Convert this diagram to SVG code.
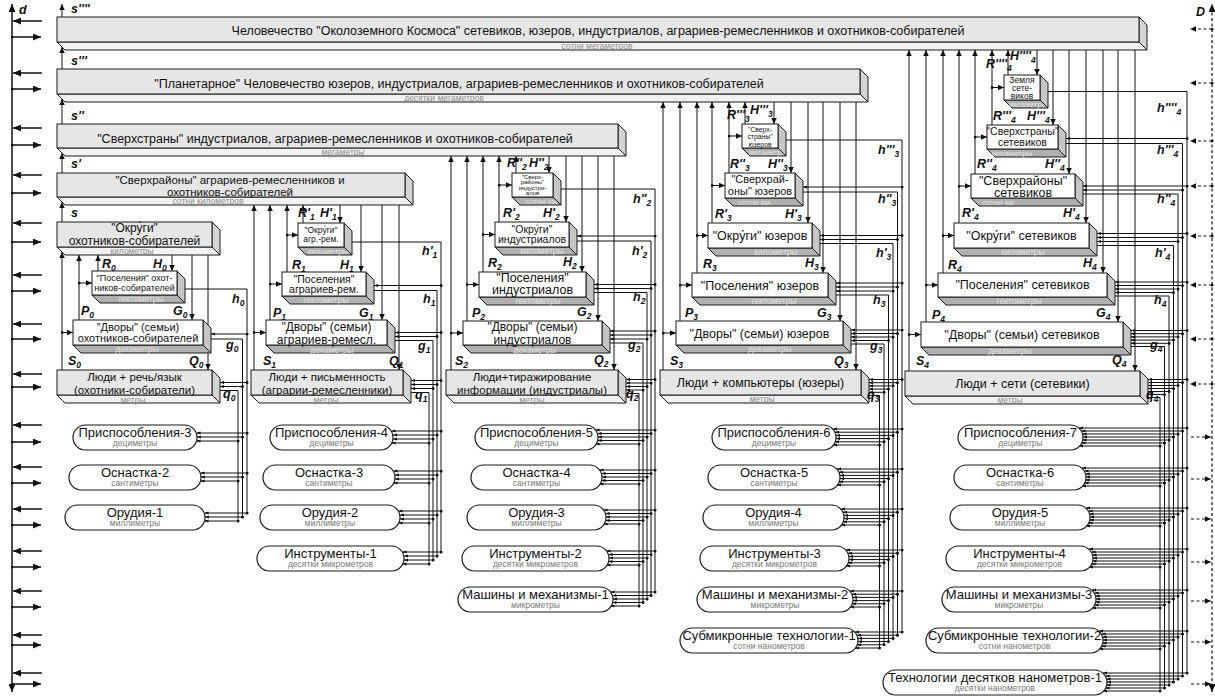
<svg xmlns="http://www.w3.org/2000/svg" width="1215" height="696" viewBox="0 0 1215 696">
<defs>
<style>
text{font-family:"Liberation Sans",Arial,sans-serif;fill:#111}
.t{font-size:12.5px;text-anchor:middle}
.cg{font-size:8.5px;text-anchor:middle;fill:#8c8c8c}
.cw{font-size:8.5px;text-anchor:middle;fill:#e2e2e2}
.lb{font-size:12.5px;font-weight:bold;font-style:italic}
.sb{font-size:8.5px}
.g .f{fill:#e6e6e6}
.g .s{fill:#f2f2f2}
.g .r{fill:#d4d4d4}
.w .f{fill:#fff}
.w .s{fill:#b0b0b0}
.w .r{fill:#c6c6c6}
.f,.s,.r{stroke:#1a1a1a;stroke-width:1}
.p rect{fill:#fff;stroke:#1a1a1a;stroke-width:1.2}
.pt{font-size:13px;text-anchor:middle}
.ps{font-size:8.5px;text-anchor:middle;fill:#777}
#connectors path{fill:none;stroke:#111;stroke-width:1}
#connectors .ar path{marker-end:url(#ah)}
#connectors .lbr path{marker-start:url(#dt);marker-end:url(#ah)}
#connectors .br path{marker-start:url(#dt);marker-end:url(#ahs)}
#axes path{fill:none;stroke:#111;stroke-width:1.5}
#axes .both{marker-start:url(#ahL);marker-end:url(#ahL)}
#axes .la{marker-end:url(#ahL)}
#axes .ra{marker-start:url(#dt);marker-end:url(#ahL)}
#axes .dash{stroke-dasharray:3 2.5;stroke-width:1.2}
#axes .dl{stroke-dasharray:3 2.5;stroke-width:1.2;marker-start:url(#dt);marker-end:url(#ah)}
#axes .dr{stroke-dasharray:3 2.5;stroke-width:1.2;marker-end:url(#ah)}
</style>
<marker id="ah" viewBox="0 0 10 10" refX="10" refY="5" markerWidth="6" markerHeight="5.5" markerUnits="userSpaceOnUse" orient="auto" preserveAspectRatio="none"><path d="M0 0L10 5L0 10z" fill="#111"/></marker>
<marker id="ahs" viewBox="0 0 10 10" refX="10" refY="5" markerWidth="4" markerHeight="3.2" markerUnits="userSpaceOnUse" orient="auto" preserveAspectRatio="none"><path d="M0 0L10 5L0 10z" fill="#111"/></marker>
<marker id="ahL" viewBox="0 0 10 10" refX="10" refY="5" markerWidth="8" markerHeight="7" markerUnits="userSpaceOnUse" orient="auto-start-reverse" preserveAspectRatio="none"><path d="M0 0L10 5L0 10z" fill="#111"/></marker>
<marker id="dt" viewBox="0 0 10 10" refX="5" refY="5" markerWidth="3" markerHeight="3" markerUnits="userSpaceOnUse"><circle cx="5" cy="5" r="5" fill="#111"/></marker>
</defs>
<rect width="1215" height="696" fill="#fff"/>

<g id="axes">
<path class="both" d="M12 692V4"/>
<path class="la" d="M42 21H13"/><path class="ra" d="M12 37H41"/>
<path class="la" d="M42 73H13"/><path class="ra" d="M12 89H41"/>
<path class="la" d="M42 128H13"/><path class="ra" d="M12 145H41"/>
<path class="la" d="M42 175H13"/><path class="ra" d="M12 193H41"/>
<path class="la" d="M42 223H13"/><path class="ra" d="M12 242H41"/>
<path class="la" d="M42 275H13"/><path class="ra" d="M12 291H41"/>
<path class="la" d="M42 324H13"/><path class="ra" d="M12 339H41"/>
<path class="la" d="M42 374H13"/><path class="ra" d="M12 387H41"/>
<path class="la" d="M42 425H13"/><path class="ra" d="M12 442H41"/>
<path class="la" d="M42 467H13"/><path class="ra" d="M12 483H41"/>
<path class="la" d="M42 509H13"/><path class="ra" d="M12 525H41"/>
<path class="la" d="M42 551H13"/><path class="ra" d="M12 567H41"/>
<path class="la" d="M42 591H13"/><path class="ra" d="M12 607H41"/>
<path class="la" d="M42 635H13"/><path class="ra" d="M12 645H41"/>
<path class="la" d="M42 673H13"/><path class="ra" d="M12 684H41"/>
<path class="dash both" d="M1212 692V4"/>
<path class="dl" d="M1212 29H1190"/><path class="dl" d="M1212 83H1190"/><path class="dl" d="M1212 141H1190"/><path class="dl" d="M1212 186H1190"/>
<path class="dl" d="M1212 236H1190"/><path class="dl" d="M1212 285H1190"/><path class="dl" d="M1212 339H1190"/><path class="dl" d="M1212 384H1190"/>
<path class="dr" d="M1191 437H1211"/><path class="dr" d="M1191 479H1211"/><path class="dr" d="M1191 519H1211"/><path class="dr" d="M1191 562H1211"/>
<path class="dr" d="M1191 601H1211"/><path class="dr" d="M1191 642H1211"/><path class="dr" d="M1191 684H1211"/>
<text class="lb" x="19" y="14">d</text>
<text class="lb" x="1196" y="16">D</text>
</g>

<g id="connectors">
<g class="ar">
<path d="M62 17V4"/><path d="M62 69V47"/><path d="M62 124V99"/><path d="M62 173V153"/><path d="M62 222V202"/>
<path d="M98 271V255"/><path d="M79 320V255"/><path d="M62 370V252"/>
<path d="M303 223V205"/><path d="M287 272V205"/><path d="M270 320V205"/><path d="M254 370V205"/>
<path d="M516 173V156"/><path d="M499 222V156"/><path d="M483 272V156"/><path d="M467 321V156"/><path d="M451 370V156"/>
<path d="M745 124V102"/><path d="M729 173V102"/><path d="M712 223V102"/><path d="M697 273V102"/><path d="M680 321V102"/><path d="M663 370V102"/>
<path d="M1008 75V50"/><path d="M992 125V50"/><path d="M975 174V50"/><path d="M959 223V50"/><path d="M943 273V50"/><path d="M926 322V50"/><path d="M909 371V50"/>
<path d="M172 255V271"/><path d="M192 255V320"/><path d="M208 255V370"/>
<path d="M340 205V223"/><path d="M361 205V272"/><path d="M382 205V320"/><path d="M399 205V370"/>
<path d="M549 156V173"/><path d="M566 156V222"/><path d="M582 156V272"/><path d="M598 156V321"/><path d="M614 156V370"/>
<path d="M774 102V124"/><path d="M791 102V173"/><path d="M808 102V223"/><path d="M823 102V273"/><path d="M840 102V321"/><path d="M856 102V370"/>
<path d="M1037 50V75"/><path d="M1053 50V125"/><path d="M1069 50V174"/><path d="M1086 50V223"/><path d="M1103 50V273"/><path d="M1118 50V322"/><path d="M1135 50V371"/>
</g>
<g class="lbr">
<path d="M79 283H92"/><path d="M62 332.5H73"/>
<path d="M287 235H298"/><path d="M270 284H282"/><path d="M254 332.5H266"/>
<path d="M499 185H512"/><path d="M483 234.5H495"/><path d="M467 284.5H479"/><path d="M451 333H463"/>
<path d="M729 136H742"/><path d="M712 185.5H725"/><path d="M697 235.5H708"/><path d="M680 285H692"/><path d="M663 333H676"/>
<path d="M992 87.5H1004"/><path d="M975 137H987"/><path d="M959 186H971"/><path d="M943 235.5H954"/><path d="M926 285H938"/><path d="M909 334.5H921"/>
</g>
<g class="bus">
<path d="M185 289H247V513"/><path d="M211 339H242.5V517"/><path d="M220 390.5H238V521"/>
<path d="M352 242H441V552"/><path d="M374 290.5H437V556"/><path d="M395 340.5H433V560"/><path d="M411 392.5H429V564"/>
<path d="M561 189H655V592"/><path d="M577 241H651V595.5"/><path d="M594 292.5H647V599"/><path d="M610 343H643V602.5"/><path d="M626 393.5H639V606"/>
<path d="M786 140H902V632"/><path d="M803 192H897.5V635.2"/><path d="M820 243.5H893V638.4"/><path d="M836 295H888.5V641.6"/><path d="M851 344H884V644.8"/><path d="M869 395.5H879.5V648"/>
<path d="M1048 91.5H1187V673"/><path d="M1066 143.5H1182.5V676"/><path d="M1083 194H1178V679"/><path d="M1097 245.5H1173.5V682"/><path d="M1115 296H1169V685"/><path d="M1131 346.5H1164.5V688"/><path d="M1148 397.5H1160V691"/>
</g>
<g class="br">
<path d="M247 334H211"/><path d="M247 382.5H220"/><path d="M242.5 386.5H220"/>
<path d="M247 433H196.5"/><path d="M242.5 437H197"/><path d="M238 441H196.5"/>
<path d="M247 473H200.5"/><path d="M242.5 477H201"/><path d="M238 481H200.5"/>
<path d="M247 513H204.5"/><path d="M242.5 517H205"/><path d="M238 521H204.5"/>

<path d="M441 285.5H374"/><path d="M441 332.5H395"/><path d="M437 336.5H395"/><path d="M441 380.5H411"/><path d="M437 384.5H411"/><path d="M433 388.5H411"/>
<path d="M441 431H391.5"/><path d="M437 435H393"/><path d="M433 439H393"/><path d="M429 443H391.5"/>
<path d="M441 471H393.5"/><path d="M437 475H395"/><path d="M433 479H395"/><path d="M429 483H393.5"/>
<path d="M441 511H398.5"/><path d="M437 515H400"/><path d="M433 519H400"/><path d="M429 523H398.5"/>
<path d="M441 552H402.5"/><path d="M437 556H404"/><path d="M433 560H404"/><path d="M429 564H402.5"/>

<path d="M655 236H577"/><path d="M655 284.5H594"/><path d="M651 288.5H594"/><path d="M655 331H610"/><path d="M651 335H610"/><path d="M647 339H610"/>
<path d="M655 379.5H626"/><path d="M651 383H626"/><path d="M647 386.5H626"/><path d="M643 390H626"/>
<path d="M655 430H595.5"/><path d="M651 433.5H597.5"/><path d="M647 437H598"/><path d="M643 440.5H597.5"/><path d="M639 444H595.5"/>
<path d="M655 470H599.5"/><path d="M651 473.5H601.5"/><path d="M647 477H602"/><path d="M643 480.5H601.5"/><path d="M639 484H599.5"/>
<path d="M655 510H603.5"/><path d="M651 513.5H605.5"/><path d="M647 517H606"/><path d="M643 520.5H605.5"/><path d="M639 524H603.5"/>
<path d="M655 551H606.5"/><path d="M651 554.5H608.5"/><path d="M647 558H609"/><path d="M643 561.5H608.5"/><path d="M639 565H606.5"/>
<path d="M655 592H610.5"/><path d="M651 595.5H612.5"/><path d="M647 599H613"/><path d="M643 602.5H612.5"/><path d="M639 606H610.5"/>

<path d="M902 187H803"/><path d="M902 235.5H820"/><path d="M897.5 239.5H820"/>
<path d="M902 283H836"/><path d="M897.5 287H836"/><path d="M893 291H836"/>
<path d="M902 330H851"/><path d="M897.5 333.5H851"/><path d="M893 337H851"/><path d="M888.5 340.5H851"/>
<path d="M902 379.5H869"/><path d="M897.5 382.7H869"/><path d="M893 385.9H869"/><path d="M888.5 389.1H869"/><path d="M884 392.3H869"/>
<path d="M902 429H833"/><path d="M897.5 432.2H835"/><path d="M893 435.4H836"/><path d="M888.5 438.6H836"/><path d="M884 441.8H835"/><path d="M879.5 445H833"/>
<path d="M902 469H837"/><path d="M897.5 472.2H839"/><path d="M893 475.4H840"/><path d="M888.5 478.6H840"/><path d="M884 481.8H839"/><path d="M879.5 485H837"/>
<path d="M902 509H841"/><path d="M897.5 512.2H843"/><path d="M893 515.4H844"/><path d="M888.5 518.6H844"/><path d="M884 521.8H843"/><path d="M879.5 525H841"/>
<path d="M902 550H846"/><path d="M897.5 553.2H848"/><path d="M893 556.4H849"/><path d="M888.5 559.6H849"/><path d="M884 562.8H848"/><path d="M879.5 566H846"/>
<path d="M902 591H850"/><path d="M897.5 594.2H852"/><path d="M893 597.4H853"/><path d="M888.5 600.6H853"/><path d="M884 603.8H852"/><path d="M879.5 607H850"/>
<path d="M902 632H855"/><path d="M897.5 635.2H857"/><path d="M893 638.4H858"/><path d="M888.5 641.6H858"/><path d="M884 644.8H857"/><path d="M879.5 648H855"/>

<path d="M1187 138.5H1066"/>
<path d="M1187 186H1083"/><path d="M1182.5 190H1083"/>
<path d="M1187 233.5H1097"/><path d="M1182.5 237.5H1097"/><path d="M1178 241.5H1097"/>
<path d="M1187 282H1115"/><path d="M1182.5 285.5H1115"/><path d="M1178 289H1115"/><path d="M1173.5 292.5H1115"/>
<path d="M1187 330.5H1131"/><path d="M1182.5 333.7H1131"/><path d="M1178 336.9H1131"/><path d="M1173.5 340.1H1131"/><path d="M1169 343.3H1131"/>
<path d="M1187 379.5H1148"/><path d="M1182.5 382.5H1148"/><path d="M1178 385.5H1148"/><path d="M1173.5 388.5H1148"/><path d="M1169 391.5H1148"/><path d="M1164.5 394.5H1148"/>
<path d="M1187 428H1079"/><path d="M1182.5 431H1081.5"/><path d="M1178 434H1082.5"/><path d="M1173.5 437H1083"/><path d="M1169 440H1082.5"/><path d="M1164.5 443H1081.5"/><path d="M1160 446H1079"/>
<path d="M1187 468H1082"/><path d="M1182.5 471H1084.5"/><path d="M1178 474H1085.5"/><path d="M1173.5 477H1086"/><path d="M1169 480H1085.5"/><path d="M1164.5 483H1084.5"/><path d="M1160 486H1082"/>
<path d="M1187 508H1086"/><path d="M1182.5 511H1088.5"/><path d="M1178 514H1089.5"/><path d="M1173.5 517H1090"/><path d="M1169 520H1089.5"/><path d="M1164.5 523H1088.5"/><path d="M1160 526H1086"/>
<path d="M1187 549H1089"/><path d="M1182.5 552H1091.5"/><path d="M1178 555H1092.5"/><path d="M1173.5 558H1093"/><path d="M1169 561H1092.5"/><path d="M1164.5 564H1091.5"/><path d="M1160 567H1089"/>
<path d="M1187 590H1092"/><path d="M1182.5 593H1094.5"/><path d="M1178 596H1095.5"/><path d="M1173.5 599H1096"/><path d="M1169 602H1095.5"/><path d="M1164.5 605H1094.5"/><path d="M1160 608H1092"/>
<path d="M1187 631H1099"/><path d="M1182.5 634H1101.5"/><path d="M1178 637H1102.5"/><path d="M1173.5 640H1103"/><path d="M1169 643H1102.5"/><path d="M1164.5 646H1101.5"/><path d="M1160 649H1099"/>
<path d="M1187 673H1103"/><path d="M1182.5 676H1105.5"/><path d="M1178 679H1106.5"/><path d="M1173.5 682H1107"/><path d="M1169 685H1106.5"/><path d="M1164.5 688H1105.5"/><path d="M1160 691H1103"/>
</g>
</g>

<g id="b1" class="g"><polygon class="s" points="57,42 1139,42 1147,50 65,50"/><text class="cg" x="597" y="48.5">сотни мегаметров</text><polygon class="r" points="1139,17 1147,25 1147,50 1139,42"/><rect class="f" x="57" y="17" width="1082" height="25"/><text class="t" x="598" y="35">Человечество "Околоземного Космоса" сетевиков, юзеров, индустриалов, аграриев-ремесленников и охотников-собирателей</text></g>
<g id="b2" class="g"><polygon class="s" points="57,94 860,94 868,102 65,102"/><text class="cg" x="444" y="100.5">десятки мегаметров</text><polygon class="r" points="860,69 868,77 868,102 860,94"/><rect class="f" x="57" y="69" width="803" height="25"/><text class="t" x="459" y="88">"Планетарное" Человечество юзеров, индустриалов, аграриев-ремесленников и охотников-собирателей</text></g>
<g id="b3" class="g"><polygon class="s" points="57,148 618,148 626,156 65,156"/><text class="cg" x="343" y="154.5">мегаметры</text><polygon class="r" points="618,124 626,132 626,156 618,148"/><rect class="f" x="57" y="124" width="561" height="24"/><text class="t" x="335" y="142.5">"Сверхстраны" индустриалов, аграриев-ремесленников и охотников-собирателей</text></g>
<g id="b4" class="g"><polygon class="s" points="57,197 405,197 413,205 65,205"/><text class="cg" x="208" y="204">сотни километров</text><polygon class="r" points="405,173 413,181 413,205 405,197"/><rect class="f" x="57" y="173" width="348" height="24"/><text class="t" style="font-size:11.5px"><tspan x="230" y="184">"Сверхрайоны" аграриев-ремесленников и</tspan><tspan x="230" y="195.5">охотников-собирателей</tspan></text></g>
<g id="b5" class="g"><polygon class="s" points="57,247 212,247 220,255 65,255"/><text class="cg" x="132" y="254">километры</text><polygon class="r" points="212,222 220,230 220,255 212,247"/><rect class="f" x="57" y="222" width="155" height="25"/><text class="t" style="font-size:12px"><tspan x="134.5" y="231.5">"Окру́ги"</tspan><tspan x="134.5" y="244.5">охотников-собирателей</tspan></text></g>

<g id="c0-pos" class="w"><polygon class="s" points="92,295 177,295 185,303 100,303"/><text class="cw" x="141" y="302">гектометры</text><polygon class="r" points="177,271 185,279 185,303 177,295"/><rect class="f" x="92" y="271" width="85" height="24"/><text class="t" style="font-size:9px"><tspan x="134.5" y="280.5">"Поселения" охот-</tspan><tspan x="134.5" y="291">ников-собирателей</tspan></text></g>
<g id="c0-dvor" class="w"><polygon class="s" points="73,345 203,345 211,353 81,353"/><text class="cw" x="137" y="352">декаметры</text><polygon class="r" points="203,320 211,328 211,353 203,345"/><rect class="f" x="73" y="320" width="130" height="25"/><text class="t" style="font-size:11px"><tspan x="138" y="331">"Дворы" (семьи)</tspan><tspan x="138" y="342">охотников-собирателей</tspan></text></g>
<g id="c0-lyudi" class="g"><polygon class="s" points="57,395 212,395 220,403 65,403"/><text class="cg" x="133" y="402.5">метры</text><polygon class="r" points="212,370 220,378 220,403 212,395"/><rect class="f" x="57" y="370" width="155" height="25"/><text class="t" style="font-size:11.5px"><tspan x="134.5" y="381">Люди + речь/язык</tspan><tspan x="134.5" y="393.5">(охотники-собиратели)</tspan></text></g>

<g id="c1-okr" class="w"><polygon class="s" points="298,247 344,247 352,255 306,255"/><text class="cw" style="font-size:8px" x="328" y="254">километры</text><polygon class="r" points="344,223 352,231 352,255 344,247"/><rect class="f" x="298" y="223" width="46" height="24"/><text class="t" style="font-size:8.5px"><tspan x="321" y="232.5">"Окру́ги"</tspan><tspan x="321" y="242">агр.-рем.</tspan></text></g>
<g id="c1-pos" class="w"><polygon class="s" points="282,296 366,296 374,304 290,304"/><text class="cw" x="326" y="303">гектометры</text><polygon class="r" points="366,272 374,280 374,304 366,296"/><rect class="f" x="282" y="272" width="84" height="24"/><text class="t" style="font-size:10.5px"><tspan x="324" y="282.5">"Поселения"</tspan><tspan x="324" y="293">аграриев-рем.</tspan></text></g>
<g id="c1-dvor" class="w"><polygon class="s" points="266,345 387,345 395,353 274,353"/><text class="cw" x="332" y="352.5">декаметры</text><polygon class="r" points="387,320 395,328 395,353 387,345"/><rect class="f" x="266" y="320" width="121" height="25"/><text class="t" style="font-size:12px"><tspan x="326.5" y="331">"Дворы" (семьи)</tspan><tspan x="326.5" y="343.5">аграриев-ремесл.</tspan></text></g>
<g id="c1-lyudi" class="g"><polygon class="s" points="251,395 403,395 411,403 259,403"/><text class="cg" x="326" y="402.5">метры</text><polygon class="r" points="403,370 411,378 411,403 403,395"/><rect class="f" x="251" y="370" width="152" height="25"/><text class="t" style="font-size:11.5px"><tspan x="327" y="381">Люди + письменность</tspan><tspan x="327" y="393.5">(аграрии-ремесленники)</tspan></text></g>

<g id="c2-sr" class="w"><polygon class="s" points="512,197 553,197 561,205 520,205"/><text class="cw" style="font-size:8px" x="541" y="204">сотни км</text><polygon class="r" points="553,173 561,181 561,205 553,197"/><rect class="f" x="512" y="173" width="41" height="24"/><text class="t" style="font-size:6px"><tspan x="532.5" y="178.5">"Сверх-</tspan><tspan x="532.5" y="184">районы"</tspan><tspan x="532.5" y="189.5">индустри-</tspan><tspan x="532.5" y="195">алов</tspan></text></g>
<g id="c2-okr" class="w"><polygon class="s" points="495,247 569,247 577,255 503,255"/><text class="cw" x="542" y="254">километры</text><polygon class="r" points="569,222 577,230 577,255 569,247"/><rect class="f" x="495" y="222" width="74" height="25"/><text class="t" style="font-size:10.5px"><tspan x="532" y="232.5">"Окру́ги"</tspan><tspan x="532" y="243">индустриалов</tspan></text></g>
<g id="c2-pos" class="w"><polygon class="s" points="479,297 586,297 594,305 487,305"/><text class="cw" x="538" y="304">гектометры</text><polygon class="r" points="586,272 594,280 594,305 586,297"/><rect class="f" x="479" y="272" width="107" height="25"/><text class="t" style="font-size:12.5px"><tspan x="532.5" y="282">"Поселения"</tspan><tspan x="532.5" y="294">индустриалов</tspan></text></g>
<g id="c2-dvor" class="w"><polygon class="s" points="463,345 602,345 610,353 471,353"/><text class="cw" x="535" y="352.5">декаметры</text><polygon class="r" points="602,321 610,329 610,353 602,345"/><rect class="f" x="463" y="321" width="139" height="24"/><text class="t" style="font-size:12px"><tspan x="532.5" y="331">"Дворы" (семьи)</tspan><tspan x="532.5" y="343.5">индустриалов</tspan></text></g>
<g id="c2-lyudi" class="g"><polygon class="s" points="446,395 618,395 626,403 454,403"/><text class="cg" x="532" y="402.5">метры</text><polygon class="r" points="618,370 626,378 626,403 618,395"/><rect class="f" x="446" y="370" width="172" height="25"/><text class="t" style="font-size:11.5px"><tspan x="532" y="381">Люди+тиражирование</tspan><tspan x="532" y="393.5">информации (индустриалы)</tspan></text></g>

<g id="c3-ss" class="w"><polygon class="s" points="742,148 778,148 786,156 750,156"/><text class="cw" style="font-size:7.5px" x="768" y="155">мегаметры</text><polygon class="r" points="778,124 786,132 786,156 778,148"/><rect class="f" x="742" y="124" width="36" height="24"/><text class="t" style="font-size:6.8px"><tspan x="760" y="132">"Сверх-</tspan><tspan x="760" y="139.3">страны"</tspan><tspan x="760" y="146.5">юзеров</tspan></text></g>
<g id="c3-sr" class="w"><polygon class="s" points="725,198 795,198 803,206 733,206"/><text class="cw" style="font-size:8px" x="754" y="205">сотни км</text><polygon class="r" points="795,173 803,181 803,206 795,198"/><rect class="f" x="725" y="173" width="70" height="25"/><text class="t" style="font-size:11px"><tspan x="760" y="183">"Сверхрай-</tspan><tspan x="760" y="194.5">оны" юзеров</tspan></text></g>
<g id="c3-okr" class="w"><polygon class="s" points="708,248 812,248 820,256 716,256"/><text class="cw" x="776" y="255">километры</text><polygon class="r" points="812,223 820,231 820,256 812,248"/><rect class="f" x="708" y="223" width="104" height="25"/><text class="t" x="760" y="240">"Окру́ги" юзеров</text></g>
<g id="c3-pos" class="w"><polygon class="s" points="692,297 828,297 836,305 700,305"/><text class="cw" x="774" y="304">гектометры</text><polygon class="r" points="828,273 836,281 836,305 828,297"/><rect class="f" x="692" y="273" width="136" height="24"/><text class="t" x="760" y="289.5">"Поселения" юзеров</text></g>
<g id="c3-dvor" class="w"><polygon class="s" points="676,345 843,345 851,353 684,353"/><text class="cw" x="770" y="352">декаметры</text><polygon class="r" points="843,321 851,329 851,353 843,345"/><rect class="f" x="676" y="321" width="167" height="24"/><text class="t" x="759.5" y="337.5">"Дворы" (семьи) юзеров</text></g>
<g id="c3-lyudi" class="g"><polygon class="s" points="660,395 861,395 869,403 668,403"/><text class="cg" x="762" y="402">метры</text><polygon class="r" points="861,370 869,378 869,403 861,395"/><rect class="f" x="660" y="370" width="201" height="25"/><text class="t" x="760.5" y="387">Люди + компьютеры (юзеры)</text></g>

<g id="c4-zem" class="w"><polygon class="s" points="1004,100 1040,100 1048,108 1012,108"/><text class="cw" style="font-size:7.5px" x="1028" y="107">мегаметры</text><polygon class="r" points="1040,75 1048,83 1048,108 1040,100"/><rect class="f" x="1004" y="75" width="36" height="25"/><text class="t" style="font-size:8.5px"><tspan x="1022" y="82.5">Земля</tspan><tspan x="1022" y="90.5">сете-</tspan><tspan x="1022" y="98.5">виков</tspan></text></g>
<g id="c4-ss" class="w"><polygon class="s" points="987,149 1058,149 1066,157 995,157"/><text class="cw" style="font-size:8px" x="1012" y="156">мегаметры</text><polygon class="r" points="1058,125 1066,133 1066,157 1058,149"/><rect class="f" x="987" y="125" width="71" height="24"/><text class="t" style="font-size:10.5px"><tspan x="1022.5" y="135">"Сверхстраны"</tspan><tspan x="1022.5" y="146">сетевиков</tspan></text></g>
<g id="c4-sr" class="w"><polygon class="s" points="971,198 1075,198 1083,206 979,206"/><text class="cw" style="font-size:8px" x="998" y="205">сотни км</text><polygon class="r" points="1075,174 1083,182 1083,206 1075,198"/><rect class="f" x="971" y="174" width="104" height="24"/><text class="t" style="font-size:12.5px"><tspan x="1023" y="184.5">"Сверхрайоны"</tspan><tspan x="1023" y="197">сетевиков</tspan></text></g>
<g id="c4-okr" class="w"><polygon class="s" points="954,248 1089,248 1097,256 962,256"/><text class="cw" x="1023" y="255">километры</text><polygon class="r" points="1089,223 1097,231 1097,256 1089,248"/><rect class="f" x="954" y="223" width="135" height="25"/><text class="t" x="1021.5" y="240">"Окру́ги" сетевиков</text></g>
<g id="c4-pos" class="w"><polygon class="s" points="938,297 1107,297 1115,305 946,305"/><text class="cw" x="1019" y="304">гектометры</text><polygon class="r" points="1107,273 1115,281 1115,305 1107,297"/><rect class="f" x="938" y="273" width="169" height="24"/><text class="t" x="1022.5" y="289">"Поселения" сетевиков</text></g>
<g id="c4-dvor" class="w"><polygon class="s" points="921,347 1123,347 1131,355 929,355"/><text class="cw" x="1010" y="354">декаметры</text><polygon class="r" points="1123,322 1131,330 1131,355 1123,347"/><rect class="f" x="921" y="322" width="202" height="25"/><text class="t" x="1022" y="338.5">"Дворы" (семьи) сетевиков</text></g>
<g id="c4-lyudi" class="g"><polygon class="s" points="905,396 1140,396 1148,404 913,404"/><text class="cg" x="1010" y="403">метры</text><polygon class="r" points="1140,371 1148,379 1148,404 1140,396"/><rect class="f" x="905" y="371" width="235" height="25"/><text class="t" x="1022.5" y="388">Люди + сети (сетевики)</text></g>

<g id="p0-1" class="p"><rect x="73" y="425" width="124" height="25" rx="12.5"/><text class="pt" x="135" y="437">Приспособления-3</text><text class="ps" x="135" y="446">дециметры</text></g>
<g id="p0-2" class="p"><rect x="69" y="465" width="132" height="25" rx="12.5"/><text class="pt" x="135" y="477">Оснастка-2</text><text class="ps" x="135" y="486">сантиметры</text></g>
<g id="p0-3" class="p"><rect x="65" y="505" width="140" height="25" rx="12.5"/><text class="pt" x="135" y="517">Орудия-1</text><text class="ps" x="135" y="526">миллиметры</text></g>

<g id="p1-1" class="p"><rect x="270" y="425" width="123" height="25" rx="12.5"/><text class="pt" x="331.5" y="437">Приспособления-4</text><text class="ps" x="331.5" y="446">дециметры</text></g>
<g id="p1-2" class="p"><rect x="263" y="465" width="132" height="25" rx="12.5"/><text class="pt" x="329" y="477">Оснастка-3</text><text class="ps" x="329" y="486">сантиметры</text></g>
<g id="p1-3" class="p"><rect x="260" y="505" width="140" height="25" rx="12.5"/><text class="pt" x="330" y="517">Орудия-2</text><text class="ps" x="330" y="526">миллиметры</text></g>
<g id="p1-4" class="p"><rect x="257" y="546" width="147" height="25" rx="12.5"/><text class="pt" x="330.5" y="558">Инструменты-1</text><text class="ps" x="330.5" y="567">десятки микрометров</text></g>

<g id="p2-1" class="p"><rect x="475" y="425" width="123" height="25" rx="12.5"/><text class="pt" x="536.5" y="437">Приспособления-5</text><text class="ps" x="536.5" y="446">дециметры</text></g>
<g id="p2-2" class="p"><rect x="471" y="465" width="131" height="25" rx="12.5"/><text class="pt" x="536.5" y="477">Оснастка-4</text><text class="ps" x="536.5" y="486">сантиметры</text></g>
<g id="p2-3" class="p"><rect x="467" y="505" width="139" height="25" rx="12.5"/><text class="pt" x="536.5" y="517">Орудия-3</text><text class="ps" x="536.5" y="526">миллиметры</text></g>
<g id="p2-4" class="p"><rect x="462" y="546" width="147" height="25" rx="12.5"/><text class="pt" x="535.5" y="558">Инструменты-2</text><text class="ps" x="535.5" y="567">десятки микрометров</text></g>
<g id="p2-5" class="p"><rect x="458" y="587" width="155" height="25" rx="12.5"/><text class="pt" x="535.5" y="599">Машины и механизмы-1</text><text class="ps" x="535.5" y="608">микрометры</text></g>

<g id="p3-1" class="p"><rect x="712" y="425" width="124" height="25" rx="12.5"/><text class="pt" x="774" y="437">Приспособления-6</text><text class="ps" x="774" y="446">дециметры</text></g>
<g id="p3-2" class="p"><rect x="708" y="465" width="132" height="25" rx="12.5"/><text class="pt" x="774" y="477">Оснастка-5</text><text class="ps" x="774" y="486">сантиметры</text></g>
<g id="p3-3" class="p"><rect x="703" y="505" width="141" height="25" rx="12.5"/><text class="pt" x="773.5" y="517">Орудия-4</text><text class="ps" x="773.5" y="526">миллиметры</text></g>
<g id="p3-4" class="p"><rect x="700" y="546" width="149" height="25" rx="12.5"/><text class="pt" x="774.5" y="558">Инструменты-3</text><text class="ps" x="774.5" y="567">десятки микрометров</text></g>
<g id="p3-5" class="p"><rect x="697" y="587" width="156" height="25" rx="12.5"/><text class="pt" x="775" y="599">Машины и механизмы-2</text><text class="ps" x="775" y="608">микрометры</text></g>
<g id="p3-6" class="p"><rect x="680" y="628" width="178" height="25" rx="12.5"/><text class="pt" x="769" y="640">Субмикронные технологии-1</text><text class="ps" x="769" y="649">сотни нанометров</text></g>

<g id="p4-1" class="p"><rect x="958" y="425" width="125" height="25" rx="12.5"/><text class="pt" x="1020.5" y="437">Приспособления-7</text><text class="ps" x="1020.5" y="446">дециметры</text></g>
<g id="p4-2" class="p"><rect x="954" y="465" width="132" height="25" rx="12.5"/><text class="pt" x="1020" y="477">Оснастка-6</text><text class="ps" x="1020" y="486">сантиметры</text></g>
<g id="p4-3" class="p"><rect x="950" y="505" width="140" height="25" rx="12.5"/><text class="pt" x="1020" y="517">Орудия-5</text><text class="ps" x="1020" y="526">миллиметры</text></g>
<g id="p4-4" class="p"><rect x="946" y="546" width="147" height="25" rx="12.5"/><text class="pt" x="1019.5" y="558">Инструменты-4</text><text class="ps" x="1019.5" y="567">десятки микрометров</text></g>
<g id="p4-5" class="p"><rect x="942" y="587" width="154" height="25" rx="12.5"/><text class="pt" x="1019" y="599">Машины и механизмы-3</text><text class="ps" x="1019" y="608">микрометры</text></g>
<g id="p4-6" class="p"><rect x="926" y="628" width="177" height="25" rx="12.5"/><text class="pt" x="1014.5" y="640">Субмикронные технологии-2</text><text class="ps" x="1014.5" y="649">сотни нанометров</text></g>
<g id="p4-7" class="p"><rect x="883" y="670" width="224" height="25" rx="12.5"/><text class="pt" x="995" y="682">Технологии десятков нанометров-1</text><text class="ps" x="995" y="691">десятки нанометров</text></g>

<g id="labels">
<text class="lb" x="71" y="13">s''''</text>
<text class="lb" x="71" y="65">s'''</text>
<text class="lb" x="71" y="120">s''</text>
<text class="lb" x="71" y="168">s'</text>
<text class="lb" x="71" y="217">s</text>

<text class="lb" x="102" y="267.5">R<tspan class="sb" dy="3">0</tspan></text>
<text class="lb" x="153" y="267.5">H<tspan class="sb" dy="3">0</tspan></text>
<text class="lb" x="81" y="315">P<tspan class="sb" dy="3">0</tspan></text>
<text class="lb" x="173" y="315">G<tspan class="sb" dy="3">0</tspan></text>
<text class="lb" x="68" y="365">S<tspan class="sb" dy="3">0</tspan></text>
<text class="lb" x="189" y="365">Q<tspan class="sb" dy="3">0</tspan></text>
<text class="lb" x="232" y="303">h<tspan class="sb" dy="3">0</tspan></text>
<text class="lb" x="226" y="349">g<tspan class="sb" dy="3">0</tspan></text>
<text class="lb" x="223" y="398">q<tspan class="sb" dy="3">0</tspan></text>

<text class="lb" x="298" y="217">R'<tspan class="sb" dy="3">1</tspan></text>
<text class="lb" x="320" y="217">H'<tspan class="sb" dy="3">1</tspan></text>
<text class="lb" x="292" y="269">R<tspan class="sb" dy="3">1</tspan></text>
<text class="lb" x="340" y="269">H<tspan class="sb" dy="3">1</tspan></text>
<text class="lb" x="273" y="317">P<tspan class="sb" dy="3">1</tspan></text>
<text class="lb" x="359" y="317">G<tspan class="sb" dy="3">1</tspan></text>
<text class="lb" x="263" y="365">S<tspan class="sb" dy="3">1</tspan></text>
<text class="lb" x="389" y="365">Q<tspan class="sb" dy="3">1</tspan></text>
<text class="lb" x="422" y="255">h'<tspan class="sb" dy="3">1</tspan></text>
<text class="lb" x="423" y="303">h<tspan class="sb" dy="3">1</tspan></text>
<text class="lb" x="418" y="350">g<tspan class="sb" dy="3">1</tspan></text>
<text class="lb" x="415" y="399">q<tspan class="sb" dy="3">1</tspan></text>

<text class="lb" x="507" y="167">R''<tspan class="sb" dy="3">2</tspan></text>
<text class="lb" x="529" y="167">H''<tspan class="sb" dy="3">2</tspan></text>
<text class="lb" x="503" y="217">R'<tspan class="sb" dy="3">2</tspan></text>
<text class="lb" x="543" y="217">H'<tspan class="sb" dy="3">2</tspan></text>
<text class="lb" x="488" y="267">R<tspan class="sb" dy="3">2</tspan></text>
<text class="lb" x="563" y="266">H<tspan class="sb" dy="3">2</tspan></text>
<text class="lb" x="472" y="317">P<tspan class="sb" dy="3">2</tspan></text>
<text class="lb" x="577" y="316">G<tspan class="sb" dy="3">2</tspan></text>
<text class="lb" x="455" y="365">S<tspan class="sb" dy="3">2</tspan></text>
<text class="lb" x="594" y="364">Q<tspan class="sb" dy="3">2</tspan></text>
<text class="lb" x="633" y="203">h''<tspan class="sb" dy="3">2</tspan></text>
<text class="lb" x="632" y="255">h'<tspan class="sb" dy="3">2</tspan></text>
<text class="lb" x="633" y="301">h<tspan class="sb" dy="3">2</tspan></text>
<text class="lb" x="628" y="349">g<tspan class="sb" dy="3">2</tspan></text>
<text class="lb" x="626" y="398">q<tspan class="sb" dy="3">2</tspan></text>

<text class="lb" x="727" y="119">R'''<tspan class="sb" dy="3">3</tspan></text>
<text class="lb" x="750" y="114">H'''<tspan class="sb" dy="3">3</tspan></text>
<text class="lb" x="730" y="168">R''<tspan class="sb" dy="3">3</tspan></text>
<text class="lb" x="768" y="168">H''<tspan class="sb" dy="3">3</tspan></text>
<text class="lb" x="715" y="218">R'<tspan class="sb" dy="3">3</tspan></text>
<text class="lb" x="785" y="218">H'<tspan class="sb" dy="3">3</tspan></text>
<text class="lb" x="703" y="268">R<tspan class="sb" dy="3">3</tspan></text>
<text class="lb" x="805" y="267">H<tspan class="sb" dy="3">3</tspan></text>
<text class="lb" x="685" y="317">P<tspan class="sb" dy="3">3</tspan></text>
<text class="lb" x="817" y="317">G<tspan class="sb" dy="3">3</tspan></text>
<text class="lb" x="670" y="365">S<tspan class="sb" dy="3">3</tspan></text>
<text class="lb" x="834" y="365">Q<tspan class="sb" dy="3">3</tspan></text>
<text class="lb" x="878" y="154">h'''<tspan class="sb" dy="3">3</tspan></text>
<text class="lb" x="878" y="203">h''<tspan class="sb" dy="3">3</tspan></text>
<text class="lb" x="876" y="257">h'<tspan class="sb" dy="3">3</tspan></text>
<text class="lb" x="873" y="304">h<tspan class="sb" dy="3">3</tspan></text>
<text class="lb" x="870" y="350">g<tspan class="sb" dy="3">3</tspan></text>
<text class="lb" x="867" y="399">q<tspan class="sb" dy="3">3</tspan></text>

<text class="lb" x="1010" y="60">H''''<tspan class="sb" dy="3">4</tspan></text>
<text class="lb" x="986" y="68">R''''<tspan class="sb" dy="3">4</tspan></text>
<text class="lb" x="993" y="120">R'''<tspan class="sb" dy="3">4</tspan></text>
<text class="lb" x="1027" y="120">H'''<tspan class="sb" dy="3">4</tspan></text>
<text class="lb" x="977" y="168">R''<tspan class="sb" dy="3">4</tspan></text>
<text class="lb" x="1045" y="168">H''<tspan class="sb" dy="3">4</tspan></text>
<text class="lb" x="962" y="217">R'<tspan class="sb" dy="3">4</tspan></text>
<text class="lb" x="1063" y="217">H'<tspan class="sb" dy="3">4</tspan></text>
<text class="lb" x="948" y="269">R<tspan class="sb" dy="3">4</tspan></text>
<text class="lb" x="1083" y="267">H<tspan class="sb" dy="3">4</tspan></text>
<text class="lb" x="932" y="319">P<tspan class="sb" dy="3">4</tspan></text>
<text class="lb" x="1096" y="317">G<tspan class="sb" dy="3">4</tspan></text>
<text class="lb" x="916" y="365">S<tspan class="sb" dy="3">4</tspan></text>
<text class="lb" x="1112" y="364">Q<tspan class="sb" dy="3">4</tspan></text>
<text class="lb" x="1157" y="112">h''''<tspan class="sb" dy="3">4</tspan></text>
<text class="lb" x="1157" y="154">h'''<tspan class="sb" dy="3">4</tspan></text>
<text class="lb" x="1157" y="203">h''<tspan class="sb" dy="3">4</tspan></text>
<text class="lb" x="1155" y="257">h'<tspan class="sb" dy="3">4</tspan></text>
<text class="lb" x="1154" y="304">h<tspan class="sb" dy="3">4</tspan></text>
<text class="lb" x="1150" y="349">g<tspan class="sb" dy="3">4</tspan></text>
<text class="lb" x="1146" y="399">q<tspan class="sb" dy="3">4</tspan></text>
</g>
</svg>
